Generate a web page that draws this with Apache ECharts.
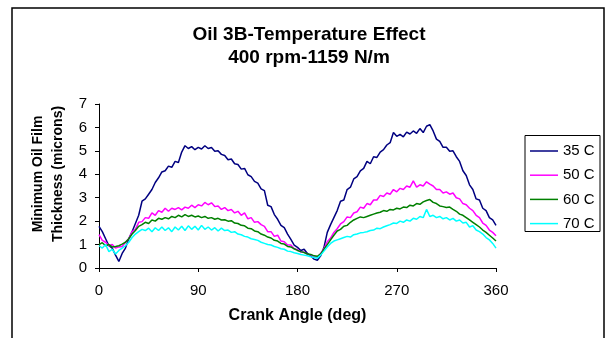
<!DOCTYPE html>
<html>
<head>
<meta charset="utf-8">
<title>Oil 3B-Temperature Effect</title>
<script src="https://cdn.jsdelivr.net/npm/echarts@6/dist/echarts.min.js"></script>
<style>
  html, body { margin: 0; padding: 0; background: #fff; }
  #myChart { width: 606px; height: 338px; }
</style>
</head>
<body>
<div id="myChart"></div>
<script>
// crank angle (deg), sampled every 3 deg
const angles = [
  0, 3, 6, 9, 12, 15, 18, 21, 24, 27,
  30, 33, 36, 39, 42, 45, 48, 51, 54, 57,
  60, 63, 66, 69, 72, 75, 78, 81, 84, 87,
  90, 93, 96, 99, 102, 105, 108, 111, 114, 117,
  120, 123, 126, 129, 132, 135, 138, 141, 144, 147,
  150, 153, 156, 159, 162, 165, 168, 171, 174, 177,
  180, 183, 186, 189, 192, 195, 198, 201, 204, 207,
  210, 213, 216, 219, 222, 225, 228, 231, 234, 237,
  240, 243, 246, 249, 252, 255, 258, 261, 264, 267,
  270, 273, 276, 279, 282, 285, 288, 291, 294, 297,
  300, 303, 306, 309, 312, 315, 318, 321, 324, 327,
  330, 333, 336, 339, 342, 345, 348, 351, 354, 357,
  360
]

// minimum oil film thickness (microns)
const thick35 = [
  1.78, 1.55, 1.25, 0.95, 0.85, 0.55, 0.28, 0.62, 0.85, 1.25,
  1.55, 1.9, 2.25, 2.85, 2.95, 3.15, 3.35, 3.65, 3.85, 4.1,
  4.15, 4.35, 4.3, 4.55, 4.5, 4.95, 5.22, 5.1, 5.18, 5.05,
  5.15, 5.08, 5.22, 5.1, 5.14, 4.98, 5.0, 4.85, 4.8, 4.62,
  4.65, 4.45, 4.42, 4.22, 4.25, 3.98, 3.9, 3.7, 3.62, 3.38,
  3.3, 2.68, 2.62, 2.28, 2.08, 1.82, 1.72, 1.45, 1.22, 0.98,
  0.88, 0.75, 0.8, 0.62, 0.52, 0.38, 0.33, 0.52, 0.88, 1.52,
  1.85, 2.15, 2.45, 2.85, 2.9, 3.35, 3.45, 3.8, 3.9, 4.15,
  4.25, 4.55, 4.45, 4.75, 4.72, 4.95, 5.05, 5.25, 5.35, 5.78,
  5.62, 5.7, 5.6, 5.8, 5.72, 5.85, 5.75, 5.95, 5.78, 6.05,
  6.12, 5.85, 5.5, 5.4, 5.15, 5.15, 4.98, 5.0, 4.75, 4.55,
  4.15, 3.95, 3.55, 3.35, 2.95, 2.9, 2.55, 2.45, 2.15, 2.05,
  1.82
]
const thick50 = [
  1.42, 1.18, 1.1, 0.95, 1.0, 0.85, 0.9, 0.92, 1.1, 1.25,
  1.55, 1.65, 1.95, 1.98, 2.15, 2.12, 2.35, 2.25, 2.45, 2.38,
  2.55, 2.42, 2.55, 2.5, 2.58, 2.48, 2.6, 2.55, 2.68, 2.58,
  2.7, 2.65, 2.8, 2.7, 2.78, 2.62, 2.65, 2.5, 2.58, 2.45,
  2.5, 2.35, 2.42, 2.25, 2.35, 2.1, 2.15, 1.95, 1.98, 1.85,
  1.78, 1.55, 1.55, 1.35, 1.4, 1.15, 1.12, 0.98, 0.98, 0.82,
  0.78, 0.68, 0.68, 0.58, 0.57, 0.48, 0.45, 0.62, 0.82, 1.12,
  1.28, 1.52, 1.68, 1.88, 1.98, 2.18, 2.15, 2.35, 2.4, 2.6,
  2.55, 2.75, 2.7, 2.9, 2.9, 3.1, 3.05, 3.2, 3.15, 3.35,
  3.25, 3.4, 3.35, 3.5, 3.45, 3.72, 3.45, 3.55, 3.5, 3.68,
  3.58, 3.5, 3.35, 3.35, 3.2, 3.25, 3.15, 3.2, 3.0, 2.95,
  2.75, 2.7, 2.55, 2.45, 2.25, 2.15, 1.92, 1.82, 1.62, 1.52,
  1.38
]
const thick60 = [
  1.0, 1.08, 0.95, 1.0, 0.9, 0.92, 0.95, 1.02, 1.1, 1.25,
  1.45, 1.6, 1.78, 1.85, 1.95, 1.9, 2.05, 2.0, 2.12, 2.08,
  2.15, 2.1, 2.2, 2.15, 2.25, 2.18, 2.28, 2.2, 2.25, 2.18,
  2.22, 2.15, 2.2, 2.12, 2.15, 2.08, 2.12, 2.05, 2.06, 2.0,
  2.02, 1.92, 1.9, 1.82, 1.8, 1.7, 1.68, 1.58, 1.55, 1.45,
  1.4, 1.32, 1.28, 1.18, 1.15, 1.05, 1.02, 0.92, 0.9, 0.82,
  0.75, 0.7, 0.66, 0.6, 0.58, 0.52, 0.5, 0.6, 0.8, 1.0,
  1.2, 1.4, 1.58, 1.65, 1.78, 1.82, 1.95, 2.05, 2.12, 2.18,
  2.15, 2.2, 2.25, 2.3, 2.35, 2.38, 2.45, 2.42, 2.5, 2.48,
  2.55, 2.52, 2.6, 2.58, 2.68, 2.65, 2.75, 2.72, 2.82, 2.88,
  2.92, 2.8, 2.75, 2.65, 2.62, 2.58, 2.6, 2.5, 2.42, 2.3,
  2.25, 2.15, 2.05, 1.95, 1.85, 1.75, 1.62, 1.52, 1.4, 1.28,
  1.15
]
const thick70 = [
  0.95, 0.85, 1.0, 0.7, 0.8, 0.6, 0.75, 0.85, 0.95, 1.1,
  1.3, 1.45, 1.55, 1.65, 1.6, 1.7, 1.55, 1.72, 1.6, 1.75,
  1.6, 1.72, 1.55, 1.75, 1.62, 1.78, 1.6, 1.8, 1.65, 1.78,
  1.62, 1.82, 1.65, 1.75, 1.62, 1.72, 1.58, 1.7, 1.6, 1.62,
  1.52, 1.55, 1.45, 1.42, 1.35, 1.32, 1.25, 1.22, 1.18, 1.1,
  1.05, 1.0, 0.98, 0.92, 0.88, 0.82, 0.8, 0.72, 0.7, 0.65,
  0.62, 0.58, 0.55, 0.52, 0.48, 0.45, 0.42, 0.55, 0.72, 0.9,
  1.05, 1.15, 1.2, 1.25, 1.3, 1.35, 1.32, 1.42, 1.45, 1.5,
  1.52, 1.55, 1.6, 1.62, 1.7, 1.68, 1.75, 1.8, 1.85, 1.92,
  1.9, 2.0, 1.95, 2.05, 2.0, 2.12, 2.08, 2.2, 2.15, 2.5,
  2.2, 2.25, 2.15, 2.2, 2.1, 2.15, 2.05, 2.12, 2.0, 2.05,
  1.92, 1.95, 1.75, 1.8, 1.62, 1.55, 1.45, 1.3, 1.2, 1.05,
  0.85
]

const seriesNames = ['35 C', '50 C', '60 C', '70 C']
const seriesColors = ['#000080', '#ff00ff', '#008000', '#00ffff']
const xTicks = [0, 90, 180, 270, 360]
const yTicks = [0, 1, 2, 3, 4, 5, 6, 7]

const font = 'Liberation Sans, Arial, sans-serif'

function pairs (ys) {
  return angles.map((a, i) => [a, ys[i]])
}

const mychart = echarts.init(document.getElementById('myChart'))
mychart.setOption({
  animation: false,
  backgroundColor: '#fff',
  title: {
    text: 'Oil 3B-Temperature Effect\n400 rpm-1159 N/m',
    left: 309,
    top: 23,
    padding: 0,
    textAlign: 'center',
    textStyle: {
      fontFamily: font,
      fontSize: 19,
      fontWeight: 'bold',
      color: '#000',
      lineHeight: 23
    }
  },
  grid: {
    left: 99,
    top: 104,
    right: 110,
    bottom: 70
  },
  // legend box border is drawn as a graphic below
  legend: {
    orient: 'vertical',
    left: 530,
    top: 143,
    padding: 0,
    itemGap: 8.2,
    itemWidth: 28,
    itemHeight: 1.5,
    icon: 'rect',
    textStyle: {
      fontFamily: font,
      fontSize: 15,
      color: '#000',
      lineHeight: 16
    },
    data: seriesNames
  },
  graphic: [
    {
      type: 'rect',
      shape: { x: 12, y: 8, width: 592, height: 345 },
      style: { fill: null, stroke: '#000', lineWidth: 1.5 },
      silent: true
    },
    {
      type: 'rect',
      shape: { x: 525, y: 135.5, width: 75, height: 96 },
      style: { fill: null, stroke: '#000', lineWidth: 1 },
      silent: true
    }
  ],
  xAxis: {
    type: 'value',
    min: xTicks[0],
    max: xTicks[xTicks.length - 1],
    interval: 90,
    name: 'Crank Angle (deg)',
    nameLocation: 'middle',
    nameGap: 40,
    nameTextStyle: {
      fontFamily: font,
      fontSize: 16,
      fontWeight: 'bold',
      color: '#000'
    },
    axisLine: { lineStyle: { color: '#000', width: 1 } },
    axisTick: { show: true, length: 4, lineStyle: { color: '#000' } },
    axisLabel: {
      fontFamily: font,
      fontSize: 15,
      color: '#000',
      margin: 15
    },
    splitLine: { show: false }
  },
  yAxis: {
    type: 'value',
    min: yTicks[0],
    max: yTicks[yTicks.length - 1],
    interval: 1,
    name: 'Minimum Oil Film\nThickness (microns)',
    nameLocation: 'middle',
    nameGap: 25,
    nameTextStyle: {
      fontFamily: font,
      fontSize: 14,
      fontWeight: 'bold',
      color: '#000',
      lineHeight: 20,
      padding: [0, 0, 0, 24]
    },
    axisLine: { show: true, lineStyle: { color: '#000', width: 1 } },
    axisTick: { show: true, length: 4, lineStyle: { color: '#000' } },
    axisLabel: {
      fontFamily: font,
      fontSize: 15,
      color: '#000',
      margin: 12
    },
    splitLine: { show: false }
  },
  series: [thick35, thick50, thick60, thick70].map((ys, i) => ({
    name: seriesNames[i],
    type: 'line',
    color: seriesColors[i],
    showSymbol: false,
    lineStyle: { width: 1.5, color: seriesColors[i] },
    data: pairs(ys)
  }))
})
</script>
</body>
</html>
